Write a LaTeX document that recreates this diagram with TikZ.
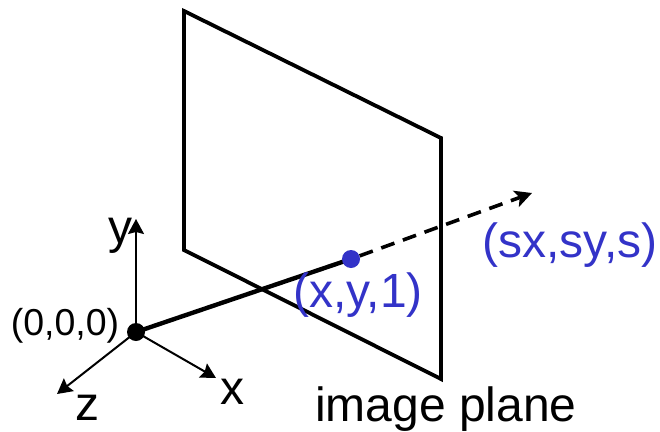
\documentclass[tikz,border=0pt]{standalone}
\usepackage{fontspec}
\setmainfont{Liberation Sans}
\usetikzlibrary{arrows.meta}
\definecolor{pblue}{RGB}{51,51,200}
\tikzset{
  px/.style={x=1pt,y=-1pt},
  plane/.style={line width=3.8pt,line join=miter},
  axis/.style={line width=2pt,-{Stealth[length=15pt,width=16pt,inset=2pt]}},
  ray/.style={line width=4.4pt},
  rayd/.style={line width=3.6pt,dash pattern=on 14pt off 9pt,-{Stealth[length=17pt,width=17pt,inset=4pt]}},
  lab/.style={inner sep=0pt,anchor=base,font=\fontsize{48}{52}\selectfont},
  blab/.style={lab,text=pblue},
}
\begin{document}
\begin{tikzpicture}[px]
\useasboundingbox (0,0) rectangle (660,431);
\coordinate (p1) at (184,11);
\coordinate (p2) at (441,138);
\coordinate (p3) at (441,379);
\coordinate (p4) at (184,250);
\draw[plane] (p1) -- (p2) -- (p3) -- (p4) -- cycle;
\coordinate (o) at (136,332);
\coordinate (ay) at (136,219);
\coordinate (ax) at (216,378);
\coordinate (az) at (57,394);
\coordinate (rayend) at (532,193);
\coordinate (ptc) at (351,259);
\draw[axis] (o) -- (ay);
\draw[axis] (o) -- (ax);
\draw[axis] (o) -- (az);
\draw[ray] (o) -- (ptc);
\node[circle,fill=pblue,inner sep=0pt,minimum size=18pt] (pt) at (ptc) {};
\fill (o) circle (9pt);
\draw[rayd] (pt) -- (rayend);
\node[lab] (ty) at (120,243) {y};
\node[lab] (tx) at (232,404) {x};
\node[lab] (tz) at (87,420) {z};
\node[lab,font=\fontsize{37.5}{40}\selectfont] (to) at (65,335) {(0,0,0)};
\node[blab] (t1) at (358,307) {(x,y,1)};
\node[blab] (t2) at (570,257) {(sx,sy,s)};
\node[lab] (t3) at (446,421) {image plane};
\end{tikzpicture}
\end{document}
